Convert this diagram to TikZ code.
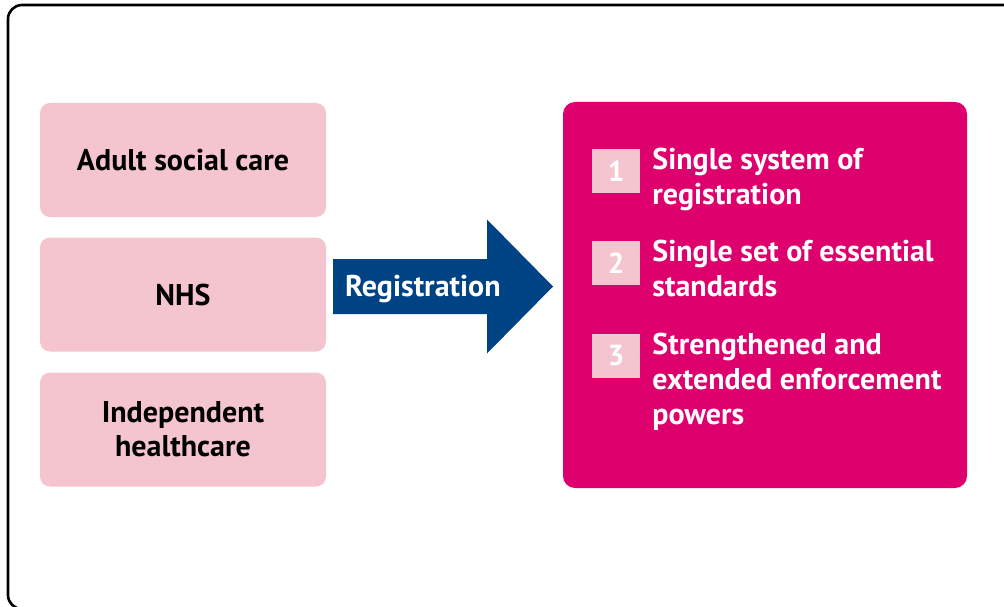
\documentclass[tikz,border=0pt]{standalone}
\usepackage{fontspec}
\setmainfont{PT Sans}
\usetikzlibrary{positioning}
\definecolor{sectorpink}{HTML}{F5C5CF}
\definecolor{hubmagenta}{HTML}{DE006C}
\definecolor{regblue}{HTML}{004384}

\tikzset{
  sector/.style={fill=sectorpink, rounded corners=10pt, minimum width=286pt,
    minimum height=114pt, align=center, inner sep=0pt,
    font=\bfseries\fontsize{30}{34}\selectfont},
  hub/.style={fill=hubmagenta, rounded corners=12pt, minimum width=404pt,
    minimum height=386pt, inner sep=0pt},
  numbox/.style={fill=sectorpink, text=white, minimum width=48pt,
    minimum height=44pt, inner sep=0pt, font=\bfseries\fontsize{29}{34}\selectfont},
  item/.style={text=white, align=left, inner sep=0pt, anchor=north west,
    font=\bfseries\fontsize{30}{35}\selectfont},
}

\begin{document}
\begin{tikzpicture}[x=1pt,y=-1pt]
    \clip (0,0) rectangle (1004,607);
    % frame, cut off at right and bottom
    \draw[line width=2.6pt, rounded corners=14pt] (8,5) rectangle (1040,609);

    \node[sector] (asc) at (183,160) {Adult social care};
    \node[sector] (nhs) at (183,294.5) {NHS};
    \node[sector] (ihc) at (183,429.5) {Independent\\healthcare};

    \node[hub] (hub) at (765,295) {};

    % the arrow
    \coordinate (tail) at (333,286.5);
    \coordinate (tip) at (553,286.5);
    \fill[regblue] ([shift={(0,-27.5)}]tail) -- ([shift={(-66,-27.5)}]tip)
        -- ([shift={(-66,-67)}]tip) -- (tip) -- ([shift={(-66,67)}]tip)
        -- ([shift={(-66,27.5)}]tip) -- ([shift={(0,27.5)}]tail) -- cycle;
    \node[text=white, font=\bfseries\fontsize{30}{34}\selectfont, anchor=west, inner sep=0pt]
        (reg) at ([shift={(12,3)}]tail) {Registration};

    \node[numbox] (n1) at (616,171) {1};
    \node[numbox] (n2) at (616,263) {2};
    \node[numbox] (n3) at (616,356) {3};

    \node[item] (t1) at ([xshift=12pt,yshift=1pt]n1.north east) {Single system of\\registration};
    \node[item] (t2) at ([xshift=12pt,yshift=1pt]n2.north east) {Single set of essential\\standards};
    \node[item] (t3) at ([xshift=12pt,yshift=1pt]n3.north east) {Strengthened and\\extended enforcement\\powers};
\end{tikzpicture}
\end{document}
